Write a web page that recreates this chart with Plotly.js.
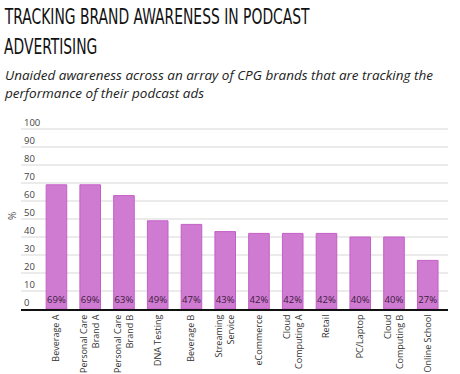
<!DOCTYPE html>
<html>
<head>
<meta charset="utf-8">
<script src="https://cdn.plot.ly/plotly-3.0.1.min.js"></script>
<style>
html,body{margin:0;padding:0;background:#fff;}
#chart{width:460px;height:374px;}
</style>
</head>
<body>
<div id="chart"></div>
<script>
const categories = ["Beverage A","Personal Care<br>Brand A","Personal Care<br>Brand B","DNA Testing","Beverage B","Streaming<br>Service","eCommerce","Cloud<br>Computing A","Retail","PC/Laptop","Cloud<br>Computing B","Online School"];
const awareness = [69, 69, 63, 49, 47, 43, 42, 42, 42, 40, 40, 27];
const barLabels = awareness.map(v => v + "%");
const yTicks = [0,10,20,30,40,50,60,70,80,90,100];
const titleLines = ["TRACKING BRAND AWARENESS IN PODCAST", "ADVERTISING"];
const subtitle = "Unaided awareness across an array of CPG brands that are tracking the<br>performance of their podcast ads";

const trace = {
  type: "bar",
  x: categories.map((c,i)=>i),
  y: awareness,
  text: barLabels,
  textposition: "inside",
  insidetextanchor: "start",
  constraintext: "none",
  textangle: 0,
  textfont: {family: "Open Sans, sans-serif", size: 9.5, color: "#3a1a3a"},
  marker: {color: "#d07bd2", line: {color: "#c45fc8", width: 1}},
  width: 0.61,
  hoverinfo: "none"
};

const titleFont = {family: "Liberation Sans Narrow, DejaVu Sans Condensed, sans-serif", size: 21, color: "#111"};
const T = 111;

const layout = {
  width: 460, height: 374,
  margin: {l: 21, r: 12, t: T, b: 65},
  paper_bgcolor: "#fff", plot_bgcolor: "#fff",
  showlegend: false,
  font: {family: "Open Sans, sans-serif", color: "#333"},
  annotations: [
    {text: titleLines[0], xref: "paper", yref: "paper", x: -0.045, y: 1, xanchor: "left", yanchor: "top",
     yshift: T - 3, showarrow: false, font: titleFont},
    {text: titleLines[1], xref: "paper", yref: "paper", x: -0.045, y: 1, xanchor: "left", yanchor: "top",
     yshift: T - 33, showarrow: false, font: titleFont},
    {text: "<i>" + subtitle + "</i>",
     xref: "paper", yref: "paper", x: -0.045, y: 1, xanchor: "left", yanchor: "top",
     yshift: T - 64, align: "left", showarrow: false,
     font: {family: "Open Sans, sans-serif", size: 13.5, color: "#222"}},
    {text: "%", xref: "paper", yref: "paper", x: -0.021, y: 0.47, xanchor: "center", yanchor: "middle",
     textangle: -90, showarrow: false, font: {family: "Open Sans, sans-serif", size: 10, color: "#555"}}
  ],
  xaxis: {
    range: [-1.05, 11.6],
    tickmode: "array", tickvals: categories.map((c,i)=>i), ticktext: categories,
    tickangle: -90, tickfont: {size: 9, color: "#333"},
    showgrid: false, zeroline: false, automargin: false,
    showline: true, linecolor: "#111", linewidth: 2,
    ticks: "", fixedrange: true
  },
  yaxis: {
    range: [0, 110],
    tickmode: "array", tickvals: yTicks,
    ticklabelposition: "inside top",
    ticklabeloverflow: "allow",
    tickfont: {size: 9.5, color: "#444"},
    showgrid: true, gridcolor: "#ebebeb", gridwidth: 2,
    zeroline: false, showline: false, ticks: "", automargin: false,
    fixedrange: true
  }
};

Plotly.newPlot("chart", [trace], layout, {displayModeBar: false, staticPlot: true}).then(gd => {
  // condense the title lines horizontally (the reference uses a condensed display face)
  const texts = gd.querySelectorAll(".annotation-text");
  const w0 = texts[0].getBBox().width;
  const s = 306 / w0;
  [0,1].forEach(k => {
    const t = texts[k];
    const x0 = t.getBBox().x;
    t.setAttribute("transform", "translate(" + x0 + ",0) scale(" + s + ",1) translate(" + (-x0) + ",0)");
  });
});
</script>
</body>
</html>
